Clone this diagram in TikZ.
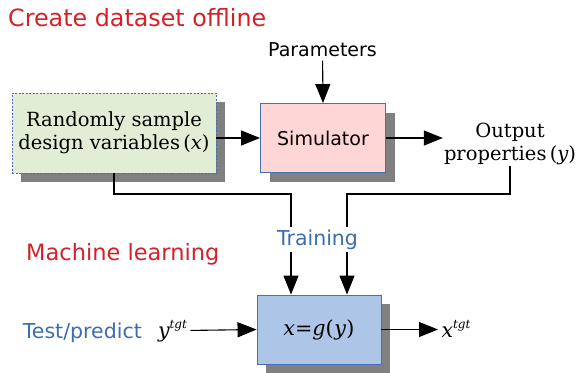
\documentclass[tikz,border=0pt]{standalone}
\usepackage{fontspec}
\setmainfont{DejaVu Serif}
\setsansfont{DejaVu Sans}
\usetikzlibrary{shapes,positioning,shadows}
\usetikzlibrary{arrows.meta}
\usetikzlibrary{calc}

\definecolor{headred}{RGB}{212,33,40}
\definecolor{textblue}{RGB}{62,108,176}
\definecolor{edgeblue}{RGB}{72,112,182}
\definecolor{fillgreen}{RGB}{225,237,213}
\definecolor{fillpink}{RGB}{255,214,214}
\definecolor{fillblue}{RGB}{173,198,232}
\definecolor{shadegray}{RGB}{128,128,128}

\tikzset{
  block/.style={draw=edgeblue,line width=0.9pt,inner sep=0pt,align=center,
    drop shadow={shadow xshift=9pt,shadow yshift=-9pt,fill=shadegray,opacity=1}},
  flow/.style={line width=1.1pt,-{Triangle[length=19pt,width=15pt]}},
  wire/.style={line width=1.1pt},
  heading/.style={text=headred,anchor=base west,inner sep=0pt,
    font=\sffamily\fontsize{23.8}{28}\selectfont},
  bluetext/.style={text=textblue,font=\sffamily\fontsize{20.5}{24}\selectfont},
  serifbox/.style={font=\fontsize{19.5}{23.5}\selectfont}
}

\begin{document}
\begin{tikzpicture}[x=1pt,y=-1pt]
\useasboundingbox (0,0) rectangle (578,372);

\coordinate (ml) at (291,194);
\coordinate (mr) at (347,194);
\coordinate (tl) at (291,227);
\coordinate (tr) at (347,227);
\coordinate (bl) at (291,252);
\coordinate (br) at (347,252);

\node[heading] (offline) at (8,27) {Create dataset offline};
\node[heading,font=\sffamily\fontsize{22.5}{27}\selectfont] (learning) at (26,260)
  {Machine learning};

\node[block,serifbox,fill=fillgreen,dash pattern=on 2pt off 1.5pt,
  minimum width=204pt,minimum height=80pt]
  (sample) at (114,133) {Randomly sample\\design variables\,({\itshape x})};
\node[block,fill=fillpink,font=\sffamily\fontsize{19}{23}\selectfont,
  minimum width=125pt,minimum height=69pt] (sim) at (323,138) {Simulator};
\node[font=\sffamily\fontsize{19}{23}\selectfont] (params) at (322.5,50) {Parameters};
\node[serifbox,align=center,inner sep=1pt] (output) at (510,144)
  {Output\\properties\,({\itshape y})};

\node[bluetext,inner sep=0pt] (train) at (317.5,240) {Training};
\node[bluetext,anchor=base west,inner sep=0pt] (test) at (22.7,338) {Test/predict};

\node[block,fill=fillblue,font=\fontsize{20.7}{24}\selectfont,
  minimum width=124pt,minimum height=69pt] (g) at (319,329.5)
  {{\itshape x}={\itshape g}(\kern0.5pt{\itshape y}\kern0.5pt)};
\node[font=\fontsize{20.5}{24}\selectfont,anchor=base west] (ytgt) at (154.5,337)
  {{\itshape y}\raisebox{9pt}{\fontsize{12}{12}\selectfont\itshape tgt}};
\node[font=\fontsize{20.5}{24}\selectfont,anchor=base west] (xtgt) at (438,337)
  {{\itshape x}\raisebox{9pt}{\fontsize{12}{12}\selectfont\itshape tgt}};

\draw[flow] (params) -- (sim.north);
\draw[flow] (sample.east |- sim.west) -- (sim.west);
\draw[flow] (sim.east) -- (output.west |- sim.east);
\draw[flow] (ytgt) -- (g.west);
\draw[flow] (g.east) -- (xtgt.west |- g.east);

\draw[wire] (sample.south) |- (ml) -- (tl);
\draw[wire] (output.south) |- (mr) -- (tr);
\foreach \s in {l,r}
  {\draw[flow] (b\s) -- (b\s |- g.north);}

\end{tikzpicture}
\end{document}
